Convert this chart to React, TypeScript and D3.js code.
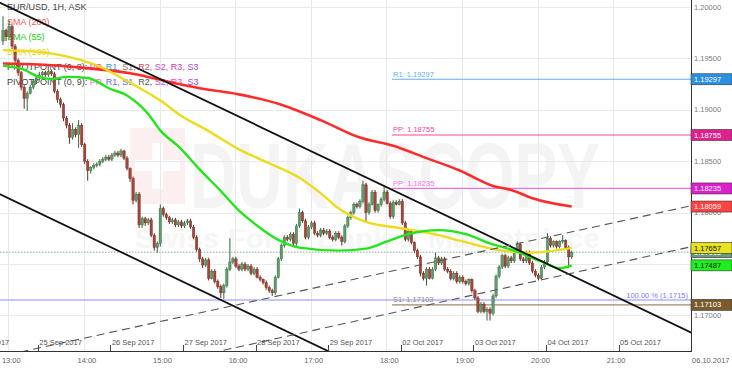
import React from 'react';
import * as d3 from 'd3';

const W = 732;
const H = 371;
const PLOT_R = 691;
const PLOT_B = 351;

// hourly EUR/USD candles, open of each = close of the previous one
const firstOpen = 1.1967;
const closes = [
  1.1977, 1.1971, 1.1981, 1.1962, 1.1948, 1.1936, 1.1922, 1.1911, 1.1916, 1.1922,
  1.1928, 1.1931, 1.1934, 1.1936, 1.1934, 1.1937, 1.1935, 1.1918, 1.1910, 1.1905,
  1.1892, 1.1885, 1.1873, 1.1881, 1.1876, 1.1885, 1.1866, 1.1850, 1.1841, 1.1844,
  1.1846, 1.1847, 1.1850, 1.1852, 1.1854, 1.1852, 1.1856, 1.1858, 1.1856, 1.1860,
  1.1853, 1.1843, 1.1833, 1.1812, 1.1818, 1.1788, 1.1794, 1.1790, 1.1793, 1.1778,
  1.1766, 1.1770, 1.1804, 1.1798, 1.1795, 1.1791, 1.1793, 1.1788, 1.1791, 1.1787,
  1.1790, 1.1792, 1.1786, 1.1776, 1.1764, 1.1755, 1.1749, 1.1754, 1.1736, 1.1743,
  1.1733, 1.1728, 1.1722, 1.1729, 1.1745, 1.1752, 1.1755, 1.1748, 1.1745, 1.1750,
  1.1745, 1.1748, 1.1741, 1.1745, 1.1737, 1.1735, 1.1732, 1.1727, 1.1724, 1.1722,
  1.1737, 1.1755, 1.1768, 1.1776, 1.1774, 1.1779, 1.1770, 1.1787, 1.1800, 1.1792,
  1.1776, 1.1786, 1.1790, 1.1780, 1.1778, 1.1783, 1.1780, 1.1782, 1.1776, 1.1774,
  1.1780, 1.1776, 1.1772, 1.1787, 1.1795, 1.1800, 1.1808, 1.1806, 1.1811, 1.1827,
  1.1800, 1.1808, 1.1820, 1.1802, 1.1808, 1.1813, 1.1820, 1.1809, 1.1796, 1.1810,
  1.1808, 1.1811, 1.1790, 1.1774, 1.1782, 1.1771, 1.1763, 1.1757, 1.1741, 1.1736,
  1.1745, 1.1736, 1.1745, 1.1756, 1.1751, 1.1755, 1.1745, 1.1743, 1.1736, 1.1741,
  1.1733, 1.1737, 1.1733, 1.1731, 1.1735, 1.1724, 1.1717, 1.1704, 1.1711, 1.1704,
  1.1706, 1.1702, 1.1719, 1.1738, 1.1747, 1.1758, 1.1748, 1.1756, 1.1753, 1.1763,
  1.1769, 1.1755, 1.1753, 1.1761, 1.1751, 1.1743, 1.1739, 1.1736, 1.1747, 1.1752,
  1.1775, 1.1768, 1.1772, 1.1767, 1.1772, 1.1773, 1.1766, 1.1757, 1.17615,
];
const highs = [
  1.1991, 1.1979, 1.1987, 1.1983, 1.1964, 1.1950, 1.1938, 1.1924, 1.1918, 1.1924,
  1.1930, 1.1933, 1.1937, 1.1938, 1.1938, 1.1939, 1.1939, 1.1937, 1.1920, 1.1912,
  1.1907, 1.1894, 1.1887, 1.1887, 1.1883, 1.1890, 1.1887, 1.1868, 1.1852, 1.1845,
  1.1848, 1.1849, 1.1852, 1.1854, 1.1856, 1.1856, 1.1858, 1.1860, 1.1860, 1.1862,
  1.1861, 1.1855, 1.1844, 1.1835, 1.1820, 1.1820, 1.1796, 1.1796, 1.1795, 1.1795,
  1.1780, 1.1772, 1.1808, 1.1806, 1.1800, 1.1797, 1.1795, 1.1795, 1.1793, 1.1793,
  1.1792, 1.1794, 1.1794, 1.1788, 1.1778, 1.1766, 1.1757, 1.1756, 1.1756, 1.1745,
  1.1745, 1.1735, 1.1730, 1.1731, 1.1747, 1.1775, 1.1757, 1.1757, 1.1750, 1.1752,
  1.1752, 1.1750, 1.1750, 1.1747, 1.1747, 1.1739, 1.1736, 1.1734, 1.1729, 1.1726,
  1.1739, 1.1757, 1.1770, 1.1778, 1.1778, 1.1781, 1.1781, 1.1789, 1.1804, 1.1802,
  1.1794, 1.1788, 1.1792, 1.1792, 1.1782, 1.1785, 1.1785, 1.1784, 1.1784, 1.1778,
  1.1782, 1.1782, 1.1778, 1.1789, 1.1797, 1.1802, 1.1810, 1.1810, 1.1813, 1.1831,
  1.1829, 1.1810, 1.1822, 1.1822, 1.1809, 1.1815, 1.1826, 1.1822, 1.1811, 1.1812,
  1.1812, 1.1813, 1.1813, 1.1792, 1.1784, 1.1784, 1.1772, 1.1765, 1.1759, 1.1743,
  1.1747, 1.1747, 1.1747, 1.1761, 1.1758, 1.1757, 1.1757, 1.1747, 1.1745, 1.1743,
  1.1743, 1.1739, 1.1739, 1.1735, 1.1736, 1.1736, 1.1726, 1.1719, 1.1713, 1.1713,
  1.1708, 1.1708, 1.1721, 1.1740, 1.1749, 1.1760, 1.1760, 1.1758, 1.1758, 1.1765,
  1.1772, 1.1771, 1.1757, 1.1763, 1.1763, 1.1753, 1.1745, 1.1741, 1.1749, 1.1754,
  1.1780, 1.1777, 1.1773, 1.1773, 1.1773, 1.1778, 1.1774, 1.1768, 1.1763,
];
const lows = [
  1.1963, 1.1967, 1.1969, 1.1959, 1.1944, 1.1933, 1.1919, 1.1901, 1.1899, 1.1915,
  1.1920, 1.1925, 1.1929, 1.1932, 1.1932, 1.1932, 1.1933, 1.1916, 1.1907, 1.1902,
  1.1889, 1.1882, 1.1867, 1.1871, 1.1873, 1.1863, 1.1864, 1.1847, 1.1831, 1.1838,
  1.1842, 1.1844, 1.1845, 1.1848, 1.1850, 1.1850, 1.1850, 1.1854, 1.1854, 1.1854,
  1.1851, 1.1841, 1.1830, 1.1808, 1.1810, 1.1785, 1.1785, 1.1787, 1.1788, 1.1776,
  1.1763, 1.1761, 1.1767, 1.1796, 1.1793, 1.1789, 1.1789, 1.1786, 1.1786, 1.1785,
  1.1785, 1.1788, 1.1784, 1.1774, 1.1762, 1.1752, 1.1746, 1.1747, 1.1734, 1.1735,
  1.1731, 1.1726, 1.1717, 1.1716, 1.1727, 1.1743, 1.1750, 1.1746, 1.1743, 1.1743,
  1.1743, 1.1743, 1.1739, 1.1739, 1.1736, 1.1733, 1.1730, 1.1725, 1.1722, 1.1719,
  1.1720, 1.1736, 1.1753, 1.1766, 1.1772, 1.1772, 1.1768, 1.1768, 1.1785, 1.1790,
  1.1774, 1.1774, 1.1784, 1.1778, 1.1776, 1.1776, 1.1778, 1.1778, 1.1774, 1.1772,
  1.1772, 1.1774, 1.1768, 1.1770, 1.1785, 1.1793, 1.1798, 1.1804, 1.1804, 1.1809,
  1.1790, 1.1798, 1.1807, 1.1800, 1.1800, 1.1806, 1.1811, 1.1808, 1.1794, 1.1794,
  1.1807, 1.1807, 1.1788, 1.1772, 1.1772, 1.1769, 1.1761, 1.1755, 1.1738, 1.1734,
  1.1729, 1.1735, 1.1735, 1.1743, 1.1749, 1.1749, 1.1743, 1.1741, 1.1734, 1.1734,
  1.1731, 1.1731, 1.1731, 1.1729, 1.1729, 1.1722, 1.1715, 1.1702, 1.1702, 1.1702,
  1.1695, 1.1695, 1.1700, 1.1717, 1.1736, 1.1745, 1.1746, 1.1746, 1.1751, 1.1751,
  1.1761, 1.1753, 1.1751, 1.1751, 1.1749, 1.1741, 1.1737, 1.1734, 1.1735, 1.1745,
  1.1750, 1.1766, 1.1766, 1.1765, 1.1765, 1.1770, 1.1764, 1.1746, 1.1755,
];

// moving averages: [candle index, price]
const sma200 = [
  [0, 1.1945], [12, 1.1944], [26, 1.1941], [43, 1.1935], [55, 1.1927], [65, 1.1921],
  [78, 1.1915], [92, 1.1905], [105, 1.1890], [118, 1.1873], [129, 1.1865], [140, 1.1853],
  [151, 1.1841], [162, 1.1826], [168, 1.1822], [175, 1.1814], [188, 1.18059],
];
const sma100 = [
  [0, 1.1958], [13, 1.1956], [21, 1.1952], [32, 1.1942], [41, 1.1928], [52, 1.1909],
  [59.5, 1.1893], [67, 1.1881], [79, 1.1860], [88, 1.1848], [98, 1.1834], [105, 1.1819],
  [111, 1.1804], [120, 1.1791], [131, 1.1785], [141, 1.1780], [152, 1.1772], [163, 1.1764],
  [174, 1.1761], [188, 1.17657],
];
const sma55 = [
  [0, 1.1943], [6, 1.1940], [13, 1.1931], [16.5, 1.1930], [21, 1.1932], [28, 1.1931],
  [32, 1.1926], [35, 1.1921], [41, 1.1914], [48, 1.1896], [52, 1.1880], [58.5, 1.1863],
  [65, 1.1842], [72, 1.1821], [78, 1.1802], [82, 1.1792], [92, 1.1772], [98, 1.1766],
  [111, 1.1763], [120, 1.1765], [127, 1.1772], [134, 1.1779], [144, 1.1783], [153, 1.1779],
  [161, 1.1770], [169, 1.1763], [177.5, 1.1753], [184, 1.1746], [188, 1.17487],
];

// drawn trend lines, two anchors each: [index, price]
const channelLines = [
  [[0, 1.20028], [188, 1.17388]],
  [[0, 1.18165], [188, 1.1552]],
];
const dashedLines = [
  [[0, 1.16607], [188, 1.17813]],
  [[0, 1.16186], [188, 1.17411]],
];

const pivotStart = 128.6;
const pivots = [
  { name: 'R1', value: 1.19297, color: '#62aef0' },
  { name: 'PP', value: 1.18755, color: '#f0489c' },
  { name: 'PP', value: 1.18235, color: '#ee70e6' },
  { name: 'S1', value: 1.17103, color: '#a08a68' },
];
const fibValue = 1.1715;
const lastPrice = 1.17615;

const yTicks = [1.17, 1.175, 1.18, 1.185, 1.19, 1.195, 1.2];
const dayTicks = [
  ['22 Sep 2017', -12.5], ['25 Sep 2017', 11.5], ['26 Sep 2017', 35.5], ['27 Sep 2017', 59.5],
  ['28 Sep 2017', 83.5], ['29 Sep 2017', 107.5], ['02 Oct 2017', 131.5], ['03 Oct 2017', 155.5],
  ['04 Oct 2017', 179.5], ['05 Oct 2017', 203.5],
];
const hourTicks = [13, 14, 15, 16, 17, 18, 19, 20, 21];

const tags = [
  { value: 1.19297, bg: '#2b8fe3', fg: '#fff' },
  { value: 1.18755, bg: '#e0208c', fg: '#fff' },
  { value: 1.18235, bg: '#dd1fcb', fg: '#fff' },
  { value: 1.18059, bg: '#ff4242', fg: '#fff' },
  { value: 1.17615, bg: '#6b9b7f', fg: '#fff' },
  { value: 1.17657, bg: '#e9e21e', fg: '#111' },
  { value: 1.17487, bg: '#1ef01e', fg: '#111' },
  { value: 1.17103, bg: '#7b5b2e', fg: '#fff' },
];

const legendPivot1 = [
  ['PP', '#ff33cc'], ['R1', '#3399ee'], ['S1', '#8a7a50'], ['R2', '#cc4466'],
  ['S2', '#cc44cc'], ['R3', '#dd3399'], ['S3', '#aa44ee'],
];
const legendPivot2 = [
  ['PP', '#ff66cc'], ['R1', '#6666ff'], ['S1', '#6666ff'], ['R2', '#555555'],
  ['S2', '#9966ff'], ['R3', '#ff44aa'], ['S3', '#9944ee'],
];

const FONT = '"Liberation Sans", Arial, sans-serif';
const fmt = d3.format('.5f');

export default function App() {
  const x = d3.scaleLinear().domain([0, 188]).range([3, 571.7]);
  const y = d3.scaleLinear().domain([1.16654, 1.20068]).range([PLOT_B, 0]);
  const hourX = d3.scaleLinear().domain([13, 22]).range([8.3, 688.7]);

  const opens = closes.map((c, i) => (i === 0 ? firstOpen : closes[i - 1]));
  const smaLine = d3.line<number[]>()
    .x(d => x(d[0]))
    .y(d => y(d[1]))
    .curve(d3.curveMonotoneX);

  // stretch a two-anchor line across the plot, clip does the rest
  const extend = (l: number[][]) => {
    const x1 = x(l[0][0]), y1 = y(l[0][1]);
    const x2 = x(l[1][0]), y2 = y(l[1][1]);
    const k = (y2 - y1) / (x2 - x1);
    return { x1: -5, y1: y1 + k * (-5 - x1), x2: PLOT_R + 5, y2: y1 + k * (PLOT_R + 5 - x1) };
  };

  const legendRow = (items: string[][], label: string, yy: number) => (
    <text x={7} y={yy} fontSize={9} fill="#444">
      <tspan>{label}</tspan>
      {items.map((d, i) => (
        <tspan key={i} fill={d[1]}>{d[0]}{i < items.length - 1 ? ', ' : ''}</tspan>
      ))}
    </text>
  );

  return (
    <svg width={W} height={H} style={{ position: 'absolute', left: 0, top: 0, display: 'block', background: '#fff' }}
      fontFamily={FONT}>
      <defs>
        <clipPath id="plot">
          <rect x={0} y={0} width={PLOT_R} height={PLOT_B} />
        </clipPath>
      </defs>

      {/* watermark */}
      <g>
        <rect x={130} y={128} width={55} height={76} fill="#fcefef" />
        <rect x={152} y={143} width={11} height={46} fill="#fff" />
        <rect x={135} y={160} width={45} height={11} fill="#fff" />
        <text x={190} y={208} fontSize={92} fontWeight="bold" fill="#f4f4f4"
          textLength={410} lengthAdjust="spacingAndGlyphs">DUKASCOPY</text>
        <text x={135} y={248} fontSize={27} fontWeight="bold" fill="#f6f6f6"
          textLength={465} lengthAdjust="spacingAndGlyphs">Swiss Forex Bank &amp; Marketplace</text>
      </g>

      {/* grid */}
      <g stroke="#e9e9e9" strokeWidth={1}>
        {yTicks.map(t => (
          <line key={t} x1={0} x2={PLOT_R} y1={Math.round(y(t)) + 0.5} y2={Math.round(y(t)) + 0.5} />
        ))}
        {hourTicks.map(h => (
          <line key={h} x1={Math.round(hourX(h)) + 0.5} x2={Math.round(hourX(h)) + 0.5} y1={0} y2={PLOT_B} />
        ))}
      </g>

      {/* legend */}
      <g>
        <text x={7} y={10} fontSize={9} fill="#444">EUR/USD, 1H, ASK</text>
        <text x={7} y={25} fontSize={9} fill="#ff5555">SMA (200)</text>
        <text x={7} y={40} fontSize={9} fill="#22cc22">SMA (55)</text>
        <text x={7} y={55} fontSize={9} fill="#e4d420">SMA (100)</text>
        {legendRow(legendPivot1, 'PIVOTPOINT (0, 8): ', 70)}
        {legendRow(legendPivot2, 'PIVOTPOINT (0, 9): ', 85)}
      </g>

      <g clipPath="url(#plot)">
        {/* pivot levels */}
        {pivots.map((p, i) => (
          <g key={i}>
            <line x1={x(pivotStart)} x2={PLOT_R} y1={y(p.value)} y2={y(p.value)} stroke={p.color} strokeWidth={1.2} />
            <text x={x(pivotStart) + 1} y={y(p.value) - 2.5} fontSize={7.5} fill={p.color}>
              {p.name}: {fmt(p.value)}
            </text>
          </g>
        ))}
        {/* fibonacci level */}
        <line x1={0} x2={PLOT_R} y1={y(fibValue)} y2={y(fibValue)} stroke="#8c8cff" strokeWidth={1} />
        <text x={PLOT_R - 3} y={y(fibValue) - 2.5} fontSize={7.5} fill="#7b7bff" textAnchor="end">100.00 % (1.1715)</text>
        {/* last price */}
        <line x1={0} x2={PLOT_R} y1={y(lastPrice)} y2={y(lastPrice)} stroke="#6b9b7f" strokeWidth={0.8} strokeDasharray="1.5,1.5" />

        {/* candles */}
        {closes.map((c, i) => {
          const o = opens[i];
          const up = c >= o;
          const cx = x(i);
          const top = y(Math.max(o, c));
          const bot = y(Math.min(o, c));
          const fill = up ? '#5f9c6c' : '#a5453a';
          const edge = up ? '#2f6a3c' : '#6e2a22';
          return (
            <g key={i}>
              <line x1={cx} x2={cx} y1={y(Math.max(highs[i], o, c))} y2={y(Math.min(lows[i], o, c))} stroke={edge} strokeWidth={1} />
              <rect x={cx - 1.2} y={top} width={2.4} height={Math.max(bot - top, 0.8)} fill={fill} stroke={edge} strokeWidth={0.4} />
            </g>
          );
        })}

        {/* moving averages */}
        <path d={smaLine(sma200) || ''} fill="none" stroke="#ff2b2b" strokeWidth={2.6} />
        <path d={smaLine(sma100) || ''} fill="none" stroke="#ecdc1c" strokeWidth={2.4} />
        <path d={smaLine(sma55) || ''} fill="none" stroke="#22e61c" strokeWidth={2.4} />

        {/* trend lines */}
        {channelLines.map((l, i) => {
          const e = extend(l);
          return <line key={i} {...e} stroke="#111" strokeWidth={1.8} />;
        })}
        {dashedLines.map((l, i) => {
          const e = extend(l);
          return <line key={i} {...e} stroke="#555" strokeWidth={1.1} strokeDasharray="8,5" />;
        })}
      </g>

      {/* axes */}
      <line x1={PLOT_R + 0.5} x2={PLOT_R + 0.5} y1={0} y2={PLOT_B} stroke="#333" strokeWidth={1} />
      <line x1={0} x2={PLOT_R + 1} y1={PLOT_B + 0.5} y2={PLOT_B + 0.5} stroke="#333" strokeWidth={1} />
      {yTicks.map(t => (
        <text key={t} x={PLOT_R + 3} y={y(t)} dy="0.35em" fontSize={7.5} fill="#7a7a7a">{fmt(t)}</text>
      ))}
      {dayTicks.map(([label, idx]) => (
        <g key={label as string}>
          <line x1={Math.round(x(idx as number)) + 0.5} x2={Math.round(x(idx as number)) + 0.5} y1={PLOT_B - 6} y2={PLOT_B}
            stroke="#444" strokeWidth={1} />
          <text x={x(idx as number) + 1.5} y={PLOT_B - 6} fontSize={7.5} fill="#555">{label}</text>
        </g>
      ))}
      {hourTicks.map(h => (
        <text key={h} x={hourX(h) + 3} y={PLOT_B + 12} fontSize={7.5} fill="#666" textAnchor="middle">{h}:00</text>
      ))}
      <text x={PLOT_R + 1} y={PLOT_B + 12} fontSize={7.5} fill="#666">06.10.2017</text>

      {/* price tags */}
      {tags.map((t, i) => (
        <g key={i}>
          <rect x={PLOT_R} y={y(t.value) - 5.5} width={W - PLOT_R} height={11} fill={t.bg} stroke="#333" strokeWidth={0.6} />
          <text x={PLOT_R + 3} y={y(t.value)} dy="0.35em" fontSize={7.5} fill={t.fg}>{fmt(t.value)}</text>
        </g>
      ))}
    </svg>
  );
}
